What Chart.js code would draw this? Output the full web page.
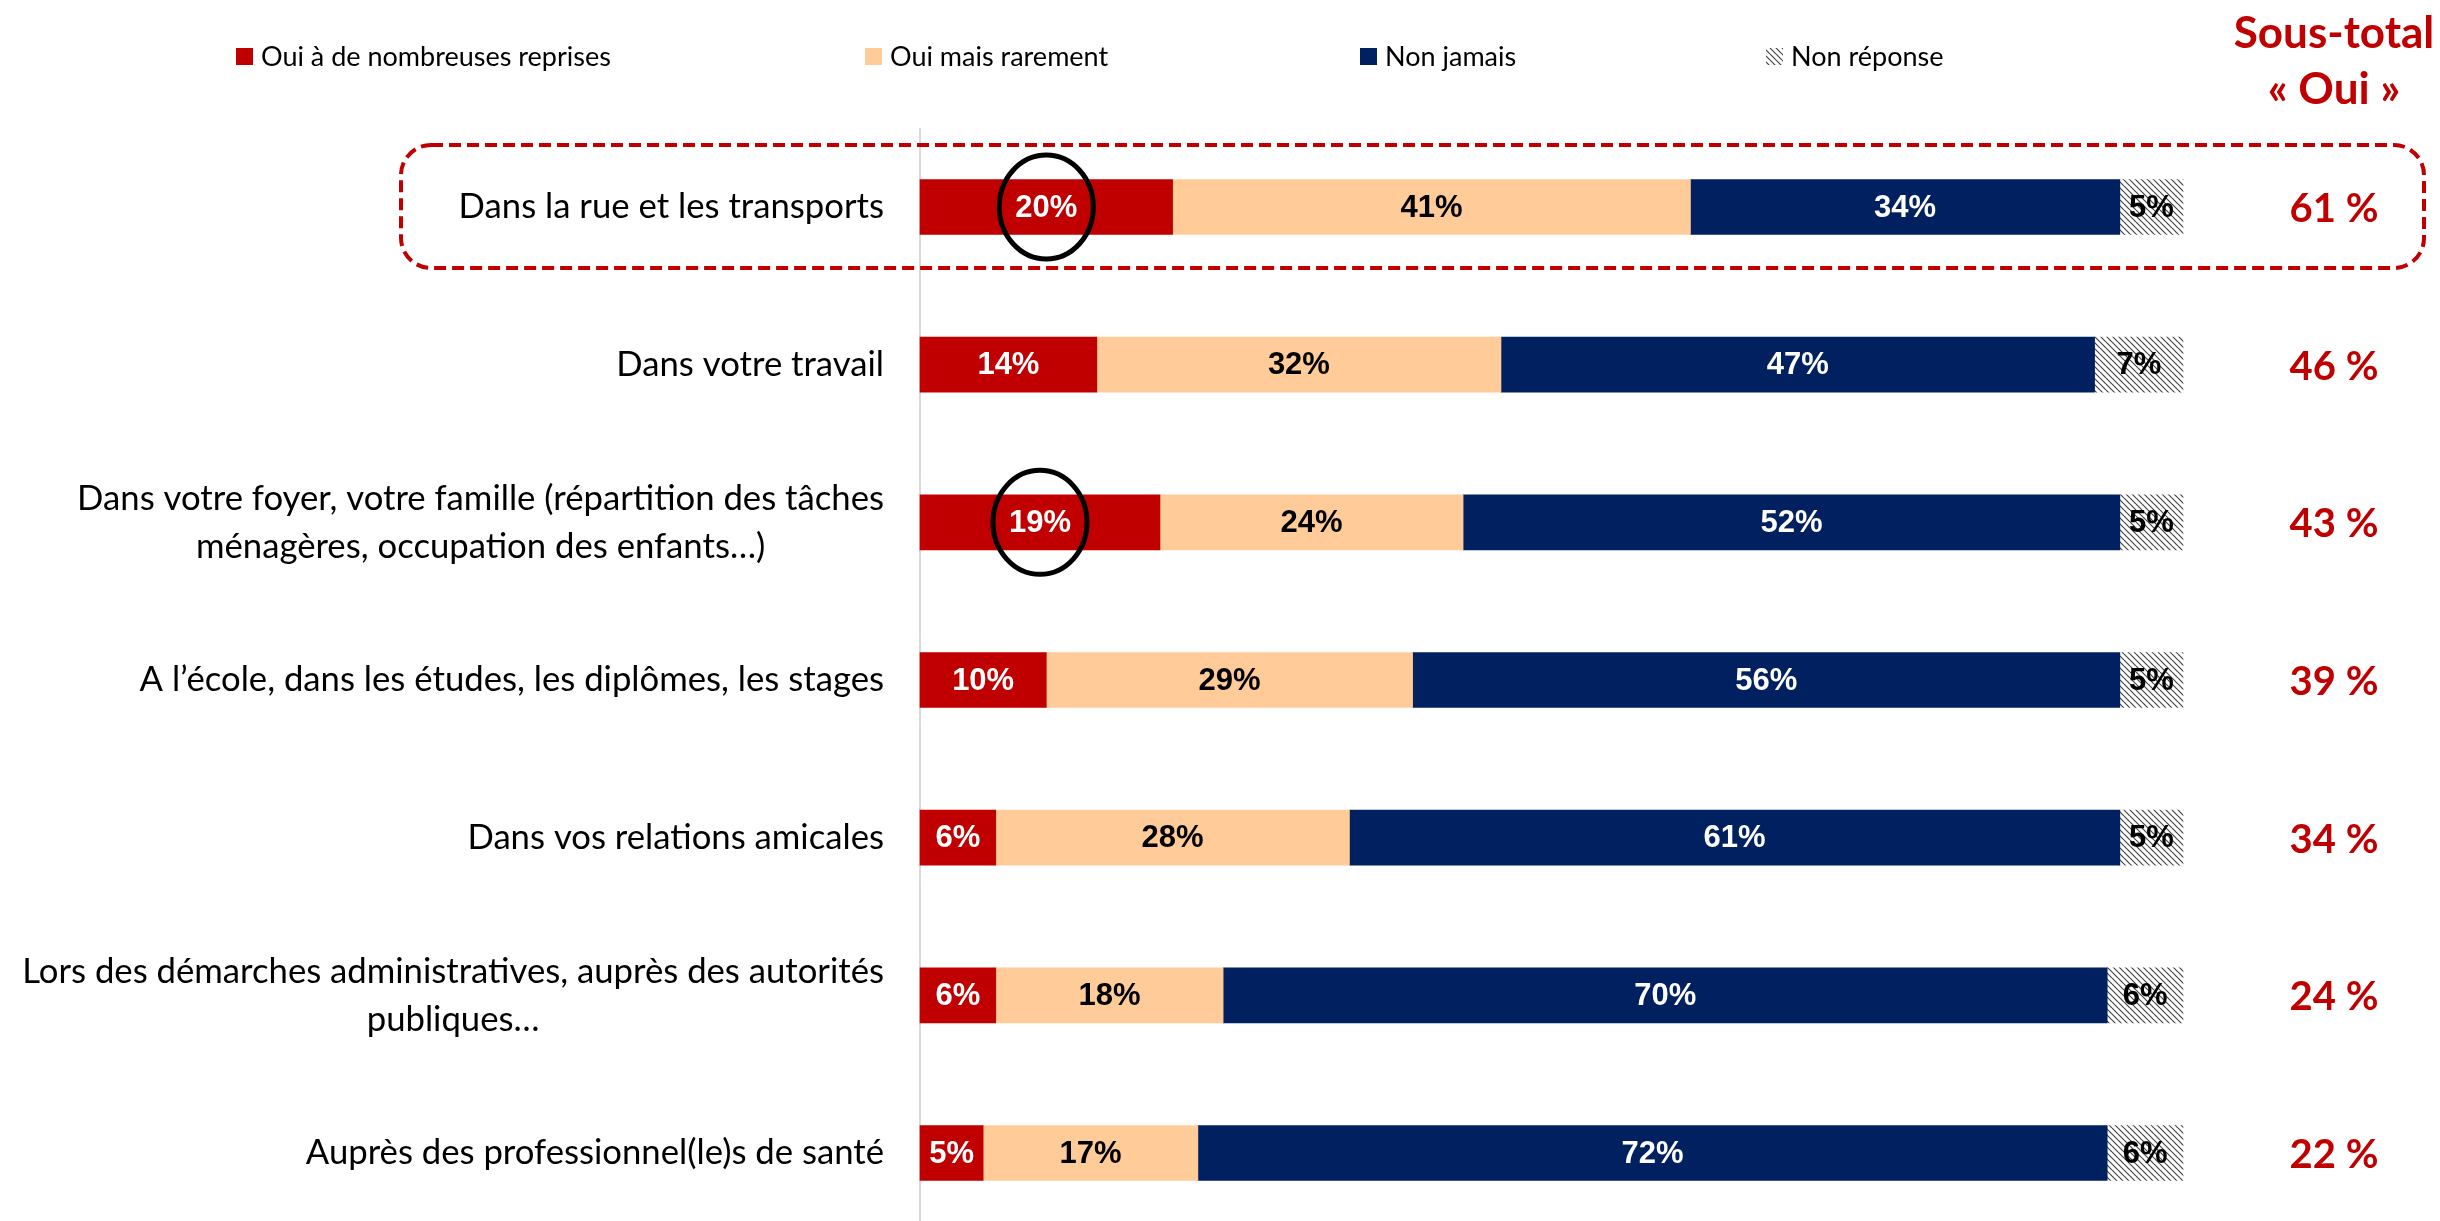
<!DOCTYPE html>
<html>
<head>
<meta charset="utf-8">
<script src="https://cdn.jsdelivr.net/npm/chart.js@4"></script>
<style>
  html, body { margin: 0; padding: 0; background: #fff; overflow: hidden; }
</style>
</head>
<body>
<canvas id="myChart" width="2440" height="1221"></canvas>
<script>
// categories (multi-line labels are arrays)
const categories = [
  "Dans la rue et les transports",
  "Dans votre travail",
  ["Dans votre foyer, votre famille (répartition des tâches", "ménagères, occupation des enfants…)"],
  "A l’école, dans les études, les diplômes, les stages",
  "Dans vos relations amicales",
  ["Lors des démarches administratives, auprès des autorités", "publiques…"],
  "Auprès des professionnel(le)s de santé"
];
const seriesNames = ["Oui à de nombreuses reprises", "Oui mais rarement", "Non jamais", "Non réponse"];
const ouiSouvent  = [20, 14, 19, 10, 6, 6, 5];
const ouiRarement = [41, 32, 24, 29, 28, 18, 17];
const nonJamais   = [34, 47, 52, 56, 61, 70, 72];
const nonReponse  = [5, 7, 5, 5, 5, 6, 6];
const sousTotalOui = [61, 46, 43, 39, 34, 24, 22];
const circledRows = [0, 2];   // first value circled
const boxedRow = 0;           // row in the dashed frame

const RED = '#C00000', PEACH = '#FFCC99', NAVY = '#002060';

function makeHatch() {
    const c = document.createElement('canvas');
    c.width = 6; c.height = 6;
    const g = c.getContext('2d');
    g.fillStyle = '#fff';
    g.fillRect(0, 0, 6, 6);
    g.strokeStyle = '#444';
    g.lineWidth = 1.2;
    g.beginPath();
    for (let k = -6; k <= 6; k += 6) {
        g.moveTo(0, k);
        g.lineTo(6, 6 + k);
    }
    g.stroke();
    return g.createPattern(c, 'repeat');
}
const hatch = makeHatch();
const colors = [RED, PEACH, NAVY, hatch];
const labelColors = ['#fff', '#000', '#fff', '#000'];

const decor = {
    id: 'decor',
    beforeDatasetsDraw(chart) {
        const ctx = chart.ctx;
        const x0 = chart.scales.x.getPixelForValue(0);
        ctx.save();
        ctx.strokeStyle = '#D9D9D9';
        ctx.lineWidth = 2;
        ctx.beginPath();
        ctx.moveTo(x0, 128);
        ctx.lineTo(x0, chart.height);
        ctx.stroke();
        ctx.restore();
    },
    afterDatasetsDraw(chart) {
        const ctx = chart.ctx;
        const xs = chart.scales.x, ys = chart.scales.y;
        ctx.save();

        // values inside the bars
        ctx.textAlign = 'center';
        ctx.textBaseline = 'middle';
        ctx.font = 'bold 31px "Liberation Sans", Arial, sans-serif';
        chart.data.datasets.forEach((ds, i) => {
            chart.getDatasetMeta(i).data.forEach((bar, j) => {
                ctx.fillStyle = labelColors[i];
                ctx.fillText(ds.data[j] + '%', (bar.x + bar.base) / 2, bar.y + 1);
            });
        });

        // circles
        ctx.strokeStyle = '#000';
        ctx.lineWidth = 5;
        const first = chart.getDatasetMeta(0).data;
        circledRows.forEach(j => {
            const bar = first[j];
            ctx.beginPath();
            ctx.ellipse((bar.x + bar.base) / 2, bar.y, 47, 52, 0, 0, Math.PI * 2);
            ctx.stroke();
        });

        // category labels
        ctx.fillStyle = '#000';
        ctx.font = '34.7px Lato, sans-serif';
        categories.forEach((cat, j) => {
            const lines = Array.isArray(cat) ? cat : [cat];
            const widest = Math.max(...lines.map(l => ctx.measureText(l).width));
            const cx = xs.left - 36 - widest / 2;
            const yc = ys.getPixelForValue(j);
            lines.forEach((l, k) => {
                ctx.fillText(l, cx, yc + (k - (lines.length - 1) / 2) * 48);
            });
        });

        // sous-total column
        ctx.fillStyle = RED;
        ctx.font = 'bold 44px Lato, sans-serif';
        ctx.fillText('Sous-total', 2334, 34);
        ctx.fillText('« Oui »', 2334, 90);
        ctx.font = 'bold 40px Lato, sans-serif';
        sousTotalOui.forEach((v, j) => {
            ctx.fillText(v + ' %', 2334, ys.getPixelForValue(j) + 2);
        });

        // dashed frame
        const yb = ys.getPixelForValue(boxedRow);
        ctx.strokeStyle = RED;
        ctx.lineWidth = 4;
        ctx.setLineDash([12, 6]);
        ctx.beginPath();
        ctx.roundRect(401, yb - 62, 2023, 123, 30);
        ctx.stroke();
        ctx.setLineDash([]);

        // legend
        const legendX = [236, 865, 1360, 1766];
        ctx.textAlign = 'left';
        ctx.font = '27px Lato, sans-serif';
        seriesNames.forEach((name, i) => {
            ctx.fillStyle = colors[i];
            ctx.fillRect(legendX[i], 48, 17, 17);
            ctx.fillStyle = '#000';
            ctx.fillText(name, legendX[i] + 25, 57);
        });

        ctx.restore();
    }
};

new Chart(document.getElementById('myChart'), {
    type: 'bar',
    data: {
        labels: categories,
        datasets: [
            { label: seriesNames[0], data: ouiSouvent, backgroundColor: colors[0], clip: false },
            { label: seriesNames[1], data: ouiRarement, backgroundColor: colors[1], clip: false },
            { label: seriesNames[2], data: nonJamais, backgroundColor: colors[2], clip: false },
            { label: seriesNames[3], data: nonReponse, backgroundColor: colors[3], clip: false }
        ]
    },
    options: {
        indexAxis: 'y',
        responsive: false,
        animation: false,
        barThickness: 55,
        borderWidth: 0,
        layout: { padding: { left: 920, right: 257, top: 207, bottom: 68 } },
        scales: {
            x: { stacked: true, min: 0, max: 100, display: false },
            y: { stacked: true, display: false, offset: false }
        },
        plugins: {
            legend: { display: false },
            tooltip: { enabled: false }
        }
    },
    plugins: [decor]
});
</script>
</body>
</html>
